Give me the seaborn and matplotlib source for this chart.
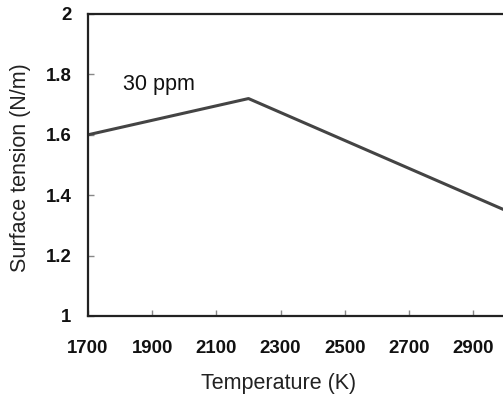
import matplotlib
matplotlib.use("Agg")
import matplotlib.pyplot as plt
import seaborn as sns
import pandas as pd
from matplotlib.ticker import FormatStrFormatter

# Data
temperature = [1700, 2200, 3000]
surface_tension = [1.60, 1.72, 1.35]
label_text = "30 ppm"
x_ticks = [1700, 1900, 2100, 2300, 2500, 2700, 2900]
y_ticks = [1.0, 1.2, 1.4, 1.6, 1.8, 2.0]

sns.set_style("ticks")
plt.rcParams['font.family'] = ['Liberation Sans', 'DejaVu Sans']

df = pd.DataFrame({"Temperature (K)": temperature, "Surface tension (N/m)": surface_tension})

fig = plt.figure(figsize=(5.03, 4.0), dpi=100)
ax = fig.add_axes([88/503, 84/400, 449.4/503, 302/400])

sns.lineplot(data=df, x="Temperature (K)", y="Surface tension (N/m)", ax=ax,
             color="#444444", linewidth=2.2)

ax.set_xlim(1700, 3100)
ax.set_ylim(1.0, 2.0)
ax.set_xticks(x_ticks)
ax.set_yticks(y_ticks)
ax.yaxis.set_major_formatter(FormatStrFormatter('%g'))

for side in ["left", "bottom", "top", "right"]:
    ax.spines[side].set_visible(True)
    ax.spines[side].set_color("#222222")
    ax.spines[side].set_linewidth(1.6)

ax.tick_params(axis='both', direction='in', length=4, width=1, color="#888888",
               labelsize=13.4, labelcolor="#111111")
ax.tick_params(axis='x', pad=17)
ax.tick_params(axis='y', pad=12)
for lab in ax.get_xticklabels() + ax.get_yticklabels():
    lab.set_fontweight('bold')

ax.set_xlabel("Temperature (K)", fontsize=15.5, color="#222222")
ax.set_ylabel("Surface tension (N/m)", fontsize=15.5, color="#222222")
ax.xaxis.set_label_coords(0.423, -0.19)
ax.yaxis.set_label_coords(-0.127, 0.49)

ax.text(1809, 1.765, label_text, fontsize=15.5, color="#111111", va='center', ha='left')

fig.savefig("out.png", dpi=100)
